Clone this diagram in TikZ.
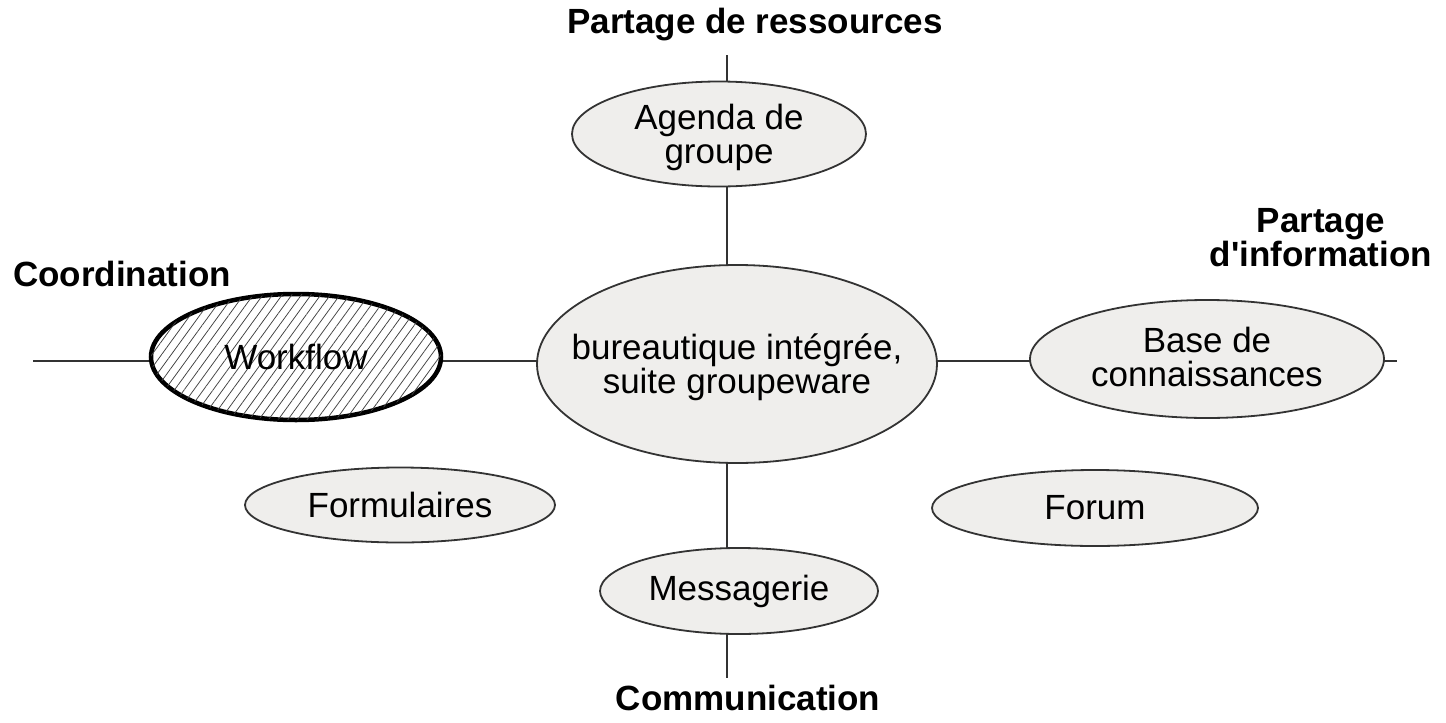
\documentclass[tikz,border=0pt]{standalone}
\usepackage{fontspec}
\setmainfont{Liberation Sans}
\newfontfamily\plainq{Liberation Sans}[Ligatures=TeXOff]
\usetikzlibrary{shapes.geometric,patterns.meta,backgrounds}
\definecolor{ellfill}{HTML}{EFEEEC}
\definecolor{linec}{HTML}{333333}
\begin{document}
\begin{tikzpicture}[x=1pt,y=-1pt,
  bub/.style={ellipse,draw=linec,line width=1.8pt,fill=ellfill,inner sep=0pt},
  txt/.style={align=center,font=\fontsize{35}{34}\selectfont,text=black,inner sep=0pt},
  hdr/.style={font=\fontsize{35}{34}\selectfont\bfseries,align=center,inner sep=0pt},
  conn/.style={draw=linec,line width=1.8pt}]
\useasboundingbox (0,0) rectangle (1446,723);
\node[bub,minimum width=294pt,minimum height=105pt,label={[txt,yshift=-3pt]center:Agenda de\\groupe}] (agenda) at (719,134) {};
\node[bub,minimum width=400pt,minimum height=198pt,label={[txt,yshift=-3pt]center:bureautique intégrée,\\suite groupeware}] (central) at (737,364) {};
\node[bub,minimum width=290pt,minimum height=126pt,line width=4.5pt,draw=black,
  fill=white,postaction={pattern={Lines[angle=54,distance=7.8pt,line width=0.75pt]},pattern color=black!75},
  label={[txt]center:Workflow}] (workflow) at (296,357) {};
\node[bub,minimum width=354pt,minimum height=118pt,label={[txt,yshift=2pt]center:Base de\\connaissances}] (base) at (1207,359) {};
\node[bub,minimum width=310pt,minimum height=75pt,label={[txt]center:Formulaires}] (form) at (400,505) {};
\node[bub,minimum width=326pt,minimum height=76pt,label={[txt]center:Forum}] (forum) at (1095,508) {};
\node[bub,minimum width=278pt,minimum height=86pt,label={[txt]center:Messagerie}] (mess) at (739,591) {};
\node[hdr] (h1) at (755,25) {Partage de ressources};
\node[hdr] (h2) at (1321,238) {Partage\\d{\plainq\bfseries '}information};
\node[hdr] (h3) at (122,274) {Coordination};
\node[hdr] (h4) at (748,698) {Communication};
\coordinate (tt) at (727,55);
\coordinate (bt) at (727,678);
\coordinate (ll) at (33,361);
\coordinate (rr) at (1397,361);
\begin{pgfonlayer}{background}
\draw[conn] (tt) -- (agenda.center -| tt);
\draw[conn] (agenda.center -| tt) -- (central.center -| tt);
\draw[conn] (central.center -| tt) -- (mess.center -| tt);
\draw[conn] (mess.center -| tt) -- (bt);
\draw[conn] (ll) -- (workflow.center |- ll);
\draw[conn] (workflow.center |- ll) -- (central.center |- ll);
\draw[conn] (central.center |- ll) -- (base.center |- ll);
\draw[conn] (base.center |- ll) -- (rr);
\end{pgfonlayer}
\end{tikzpicture}
\end{document}
